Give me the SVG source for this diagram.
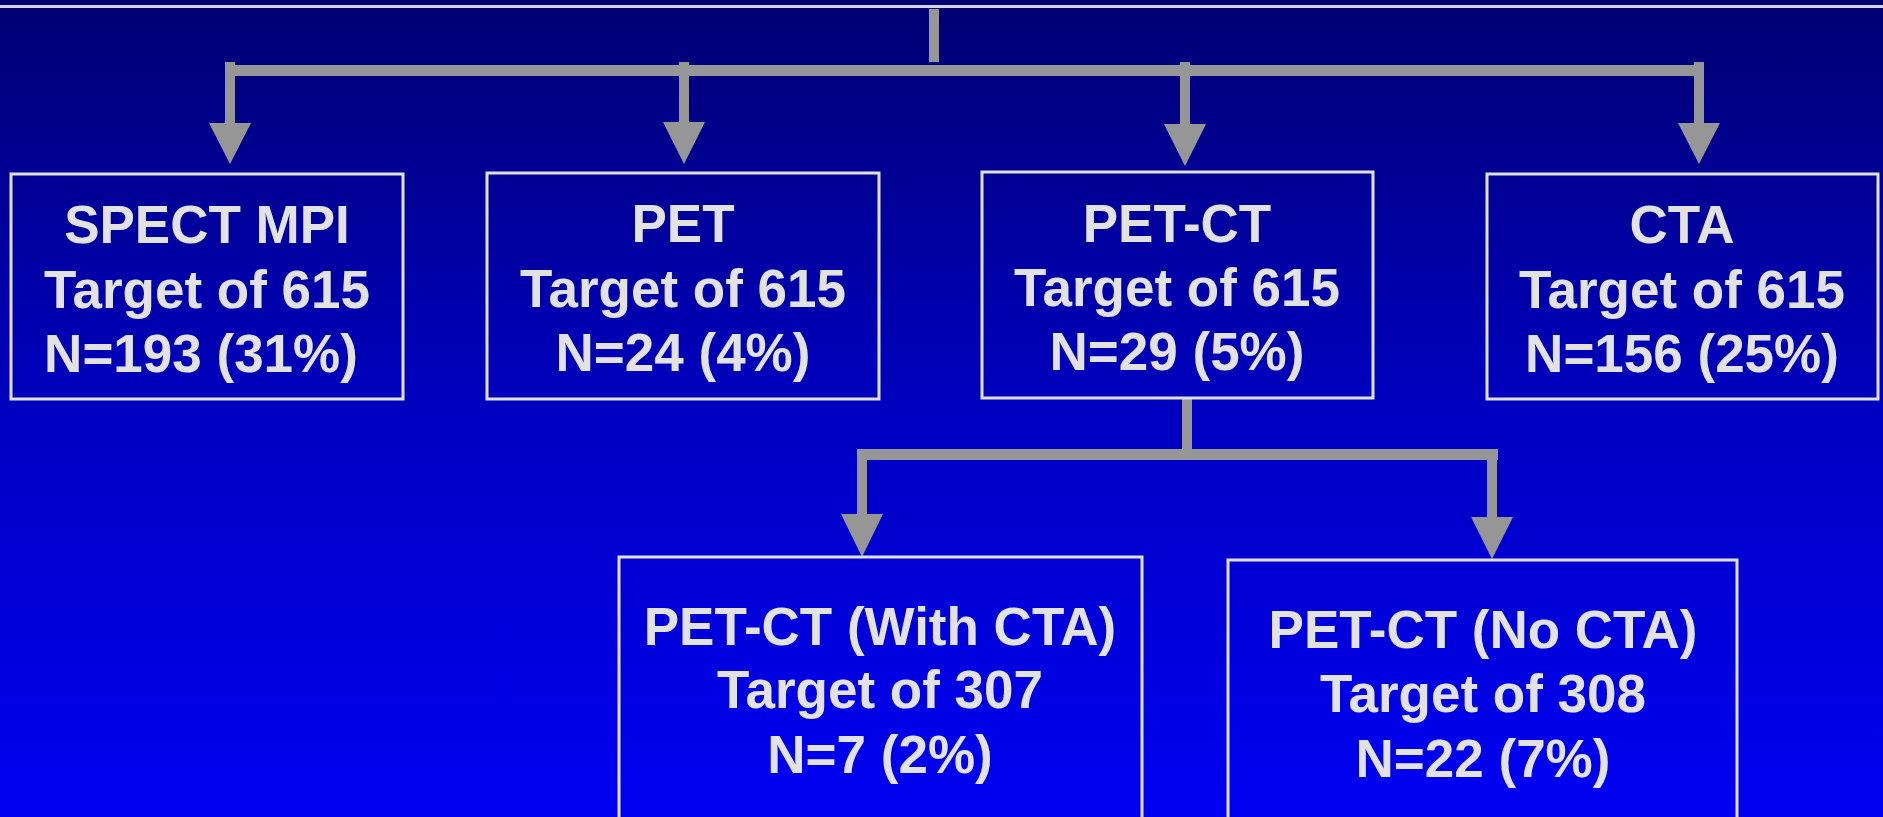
<svg xmlns="http://www.w3.org/2000/svg" width="1883" height="817" viewBox="0 0 1883 817">
<defs>
<linearGradient id="bg" x1="0" y1="0" x2="0" y2="1">
<stop offset="0" stop-color="#000072"/>
<stop offset="0.5" stop-color="#0000c0"/>
<stop offset="1" stop-color="#0000f2"/>
</linearGradient>
<style>
.box{fill:none;stroke:#e0e0e0;stroke-width:3}
.t{font-family:"Liberation Sans",Arial,sans-serif;font-weight:bold;font-size:53px;fill:#e2e2e2;text-anchor:middle}
.c{fill:#969696}
</style>
</defs>
<rect x="0" y="0" width="1883" height="817" fill="url(#bg)"/>
<rect x="0" y="5" width="1883" height="3" fill="#d4d4e4"/>
<g id="connectors">
<rect class="c" x="929" y="9" width="10" height="53"/>
<rect class="c" x="225" y="65" width="1479" height="11"/>
<rect class="c" x="225" y="62" width="10" height="62"/>
<polygon class="c" points="209,123 251,123 230,164"/>
<rect class="c" x="679" y="62" width="10" height="62"/>
<polygon class="c" points="663,122 705,122 684,164"/>
<rect class="c" x="1180" y="62" width="10" height="63"/>
<polygon class="c" points="1164,124 1206,124 1185,166"/>
<rect class="c" x="1694" y="62" width="10" height="62"/>
<polygon class="c" points="1678,123 1720,123 1699,164"/>
<rect class="c" x="1182" y="398" width="10" height="52"/>
<rect class="c" x="857" y="449" width="641" height="11"/>
<rect class="c" x="857" y="449" width="10" height="66"/>
<polygon class="c" points="841,514 883,514 862,557"/>
<rect class="c" x="1487" y="449" width="10" height="69"/>
<polygon class="c" points="1471,517 1513,517 1492,559"/>
</g>
<g id="spect">
<rect class="box" x="11" y="174" width="392" height="225"/>
<text class="t" x="207" y="243">SPECT MPI</text>
<text class="t" x="207" y="308">Target of 615</text>
<text class="t" x="201" y="372">N=193 (31%)</text>
</g>
<g id="pet">
<rect class="box" x="487" y="173" width="392" height="226"/>
<text class="t" x="683" y="242">PET</text>
<text class="t" x="683" y="307">Target of 615</text>
<text class="t" x="683" y="371">N=24 (4%)</text>
</g>
<g id="petct">
<rect class="box" x="982" y="172" width="391" height="226"/>
<text class="t" x="1177" y="242">PET-CT</text>
<text class="t" x="1177" y="306">Target of 615</text>
<text class="t" x="1177" y="370">N=29 (5%)</text>
</g>
<g id="cta">
<rect class="box" x="1487" y="174" width="391" height="225"/>
<text class="t" x="1682" y="243">CTA</text>
<text class="t" x="1682" y="308">Target of 615</text>
<text class="t" x="1682" y="372">N=156 (25%)</text>
</g>
<g id="petct-with">
<rect class="box" x="619" y="557" width="523" height="280"/>
<text class="t" x="880" y="645">PET-CT (With CTA)</text>
<text class="t" x="880" y="708">Target of 307</text>
<text class="t" x="880" y="773">N=7 (2%)</text>
</g>
<g id="petct-no">
<rect class="box" x="1228" y="560" width="509" height="280"/>
<text class="t" x="1483" y="648">PET-CT (No CTA)</text>
<text class="t" x="1483" y="712">Target of 308</text>
<text class="t" x="1483" y="777">N=22 (7%)</text>
</g>
</svg>
